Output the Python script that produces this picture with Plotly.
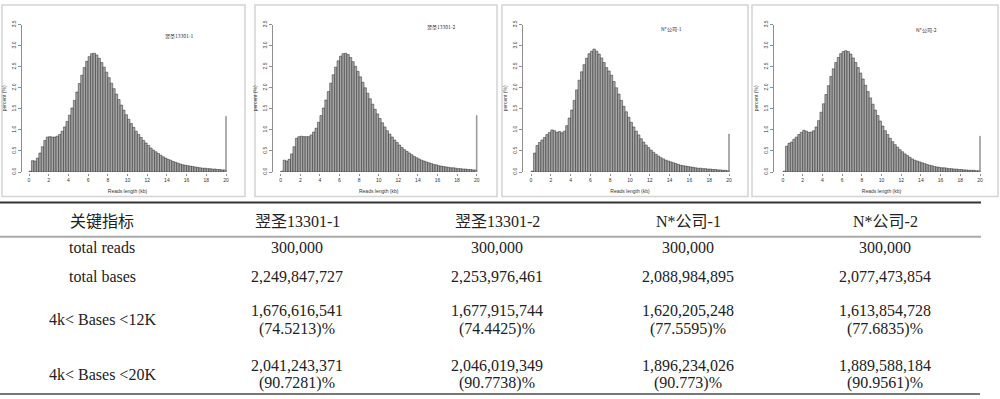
import plotly.graph_objects as go

# ---------------- data ----------------
samples = ["翌圣13301-1", "翌圣13301-2", "N*公司-1", "N*公司-2"]
bin_left = [i * 0.25 for i in range(80)]  # kb, 0.25 kb bins
x_ticks = [0, 2, 4, 6, 8, 10, 12, 14, 16, 18, 20]
y_ticks = [0.0, 0.5, 1.0, 1.5, 2.0, 2.5, 3.0, 3.5]
y_tick_text = ["0.0", "0.5", "1.0", "1.5", "2.0", "2.5", "3.0", "3.5"]

pct_s1 = [0.02, 0.27, 0.26, 0.33, 0.45, 0.60, 0.75, 0.83, 0.84, 0.83, 0.83, 0.85, 0.89, 0.97, 1.07, 1.20,
          1.35, 1.52, 1.70, 1.90, 2.10, 2.30, 2.48, 2.63, 2.74, 2.81, 2.82, 2.78, 2.70, 2.60, 2.49, 2.37,
          2.24, 2.11, 1.98, 1.85, 1.72, 1.59, 1.47, 1.36, 1.25, 1.15, 1.06, 0.97, 0.89, 0.82, 0.75, 0.69,
          0.63, 0.57, 0.52, 0.48, 0.44, 0.40, 0.36, 0.33, 0.30, 0.28, 0.25, 0.23, 0.21, 0.19, 0.17, 0.16,
          0.15, 0.14, 0.13, 0.12, 0.11, 0.10, 0.09, 0.09, 0.08, 0.08, 0.07, 0.07, 0.06, 0.06, 0.05, 0.05]
pct_s2 = [0.02, 0.28, 0.26, 0.30, 0.43, 0.60, 0.80, 0.84, 0.85, 0.84, 0.84, 0.84, 0.88, 0.95, 1.04, 1.18,
          1.34, 1.52, 1.71, 1.91, 2.11, 2.31, 2.49, 2.64, 2.75, 2.81, 2.82, 2.79, 2.72, 2.62, 2.51, 2.39,
          2.26, 2.13, 2.00, 1.87, 1.74, 1.61, 1.49, 1.38, 1.27, 1.17, 1.07, 0.98, 0.90, 0.83, 0.76, 0.70,
          0.64, 0.58, 0.53, 0.49, 0.45, 0.41, 0.37, 0.34, 0.31, 0.28, 0.26, 0.24, 0.22, 0.20, 0.18, 0.17,
          0.15, 0.14, 0.13, 0.12, 0.11, 0.10, 0.10, 0.09, 0.08, 0.08, 0.07, 0.07, 0.06, 0.06, 0.05, 0.05]
pct_s3 = [0.02, 0.45, 0.63, 0.70, 0.76, 0.82, 0.89, 0.94, 1.00, 0.98, 0.94, 0.96, 0.93, 0.97, 1.10, 1.28,
          1.47, 1.70, 1.95, 2.18, 2.38, 2.55, 2.70, 2.81, 2.87, 2.92, 2.87, 2.80, 2.71, 2.60, 2.48, 2.40,
          2.30, 2.15, 2.00, 1.85, 1.70, 1.56, 1.43, 1.30, 1.18, 1.07, 0.97, 0.88, 0.79, 0.71, 0.64, 0.58,
          0.52, 0.47, 0.42, 0.38, 0.34, 0.31, 0.28, 0.26, 0.24, 0.22, 0.20, 0.18, 0.16, 0.15, 0.14, 0.13,
          0.12, 0.11, 0.10, 0.09, 0.09, 0.08, 0.08, 0.07, 0.07, 0.06, 0.06, 0.05, 0.05, 0.04, 0.04, 0.03]
pct_s4 = [0.02, 0.61, 0.68, 0.71, 0.78, 0.83, 0.89, 0.94, 0.99, 0.97, 0.94, 0.95, 0.98, 1.07, 1.22, 1.42,
          1.62, 1.84, 2.05, 2.27, 2.45, 2.60, 2.72, 2.81, 2.86, 2.88, 2.86, 2.80, 2.71, 2.60, 2.48, 2.35,
          2.21, 2.06, 1.91, 1.76, 1.61, 1.47, 1.34, 1.21, 1.09, 0.98, 0.89, 0.80, 0.72, 0.65, 0.59, 0.53,
          0.48, 0.43, 0.39, 0.35, 0.31, 0.28, 0.26, 0.24, 0.22, 0.20, 0.18, 0.16, 0.15, 0.13, 0.12, 0.11,
          0.10, 0.10, 0.09, 0.08, 0.08, 0.07, 0.07, 0.06, 0.06, 0.05, 0.05, 0.04, 0.04, 0.04, 0.03, 0.03]
pct_over20 = [1.32, 1.34, 0.90, 0.85]   # reads >= 20 kb, drawn at x = 20

table_header = "关键指标"
metric_labels = ["total reads", "total bases", "4k< Bases <12K", "4k< Bases <20K"]
total_reads = [300000, 300000, 300000, 300000]
total_bases = [2249847727, 2253976461, 2088984895, 2077473854]
bases_4k_12k = [1676616541, 1677915744, 1620205248, 1613854728]
pct_4k_12k = [74.5213, 74.4425, 77.5595, 77.6835]
bases_4k_20k = [2041243371, 2046019349, 1896234026, 1889588184]
pct_4k_20k = [90.7281, 90.7738, 90.773, 90.9561]

# ---------------- layout geometry (pixels) ----------------
W, H = 1000, 399
def px(x): return x / W
def py(y): return 1 - y / H

panel_box = [(2, 245), (255, 497), (502, 748), (752, 998)]
x0_px = [29, 280.7, 531, 783]
x20_px = [226, 476.7, 729, 980]
yaxis_px = [21, 271.7, 521.7, 773]
title_px = [(179, 32), (441, 23), (671, 25), (926, 26)]
Y0, Y35 = 171, 21
XPAD = 0.4

series = [pct_s1, pct_s2, pct_s3, pct_s4]
fig = go.Figure()
layout_axes = {}
shapes = []
annotations = []
tick_font = dict(family="Liberation Sans, Arial", size=5, color="#333")

for k in range(4):
    s = (x20_px[k] - x0_px[k]) / 20.0
    dl = x0_px[k] - XPAD * s
    dr = x20_px[k] + XPAD * s
    xa = "xaxis" if k == 0 else f"xaxis{k+1}"
    ya = "yaxis" if k == 0 else f"yaxis{k+1}"
    xr = "x" if k == 0 else f"x{k+1}"
    yr = "y" if k == 0 else f"y{k+1}"
    centers = [b + 0.125 for b in bin_left]
    fig.add_trace(go.Bar(x=centers, y=series[k], width=[0.25] * len(centers),
                         marker=dict(color="#a6a6a6", line=dict(color="#2a2a2a", width=0.5)),
                         xaxis=xr, yaxis=yr, showlegend=False, hoverinfo="skip"))
    fig.add_trace(go.Bar(x=[20], y=[pct_over20[k]], width=[0.09],
                         marker=dict(color="#b0b0b0", line=dict(color="#666", width=0.4)),
                         xaxis=xr, yaxis=yr, showlegend=False, hoverinfo="skip"))
    layout_axes[xa] = dict(domain=[px(dl), px(dr)], range=[-XPAD, 20 + XPAD],
                           anchor="free", position=py(Y0 + 1), showgrid=False, zeroline=False,
                           showline=False, ticks="outside", ticklen=2, tickwidth=0.6, tickcolor="#444",
                           tickvals=x_ticks, ticktext=[str(t) for t in x_ticks], tickfont=tick_font,
                           title=dict(text="Reads length (kb)", font=dict(family="Liberation Sans, Arial", size=5, color="#333"), standoff=7))
    layout_axes[ya] = dict(domain=[py(Y0), py(Y35)], range=[0, 3.5],
                           anchor="free", position=px(yaxis_px[k]), showgrid=False, zeroline=False,
                           showline=True, linecolor="#444", linewidth=0.6,
                           ticks="outside", ticklen=3, tickwidth=0.6, tickcolor="#444",
                           tickvals=y_ticks, ticktext=y_tick_text, tickangle=-90, tickfont=tick_font,
                           title=dict(text="percent (%)", font=dict(family="Liberation Sans, Arial", size=5, color="#333"), standoff=3))
    shapes.append(dict(type="rect", xref="paper", yref="paper",
                       x0=px(panel_box[k][0]), x1=px(panel_box[k][1]), y0=py(196), y1=py(1),
                       line=dict(color="#d4d4d4", width=1.5), fillcolor="rgba(0,0,0,0)", layer="below"))
    annotations.append(dict(xref="paper", yref="paper", x=px(title_px[k][0]), y=py(title_px[k][1]),
                            text=samples[k], showarrow=False, xanchor="center", yanchor="middle",
                            font=dict(family="Noto Sans CJK SC", size=5, color="#333")))

# ---------------- table ----------------
tfont = dict(family="Liberation Serif, Times New Roman, Noto Sans CJK SC", size=16, color="#222")
col_x = [102, 297, 497, 688, 885]

def add_text(x, y, t):
    annotations.append(dict(xref="paper", yref="paper", x=px(x), y=py(y), text=t, showarrow=False,
                            xanchor="center", yanchor="middle", font=tfont))

add_text(col_x[0], 221, table_header)
for i, smp in enumerate(samples):
    add_text(col_x[i + 1], 221, smp)

row_single_y = [248, 277]
row_double_y = [(312, 331), (368, 386)]
add_text(col_x[0], row_single_y[0], metric_labels[0])
add_text(col_x[0], row_single_y[1], metric_labels[1])
add_text(col_x[0], sum(row_double_y[0]) / 2, metric_labels[2])
add_text(col_x[0], sum(row_double_y[1]) / 2, metric_labels[3])
for i in range(4):
    add_text(col_x[i + 1], row_single_y[0], f"{total_reads[i]:,}")
    add_text(col_x[i + 1], row_single_y[1], f"{total_bases[i]:,}")
    add_text(col_x[i + 1], row_double_y[0][0], f"{bases_4k_12k[i]:,}")
    add_text(col_x[i + 1], row_double_y[0][1], f"({pct_4k_12k[i]})%")
    add_text(col_x[i + 1], row_double_y[1][0], f"{bases_4k_20k[i]:,}")
    add_text(col_x[i + 1], row_double_y[1][1], f"({pct_4k_20k[i]})%")

shapes.append(dict(type="line", xref="paper", yref="paper", x0=px(0), x1=px(981), y0=py(202), y1=py(202),
                   line=dict(color="#333", width=2)))
shapes.append(dict(type="line", xref="paper", yref="paper", x0=px(0), x1=px(981), y0=py(237), y1=py(237),
                   line=dict(color="#aaa", width=2)))
shapes.append(dict(type="line", xref="paper", yref="paper", x0=px(0), x1=px(980), y0=py(397), y1=py(397),
                   line=dict(color="#777", width=2)))

fig.update_layout(width=W, height=H, margin=dict(l=0, r=0, t=0, b=0),
                  paper_bgcolor="white", plot_bgcolor="white", bargap=0, barmode="overlay",
                  hovermode=False, shapes=shapes, annotations=annotations, **layout_axes)
fig.write_html("out.html", config={"displayModeBar": False, "staticPlot": True},
               post_script="document.body.style.margin='0';document.body.style.overflow='hidden';")
